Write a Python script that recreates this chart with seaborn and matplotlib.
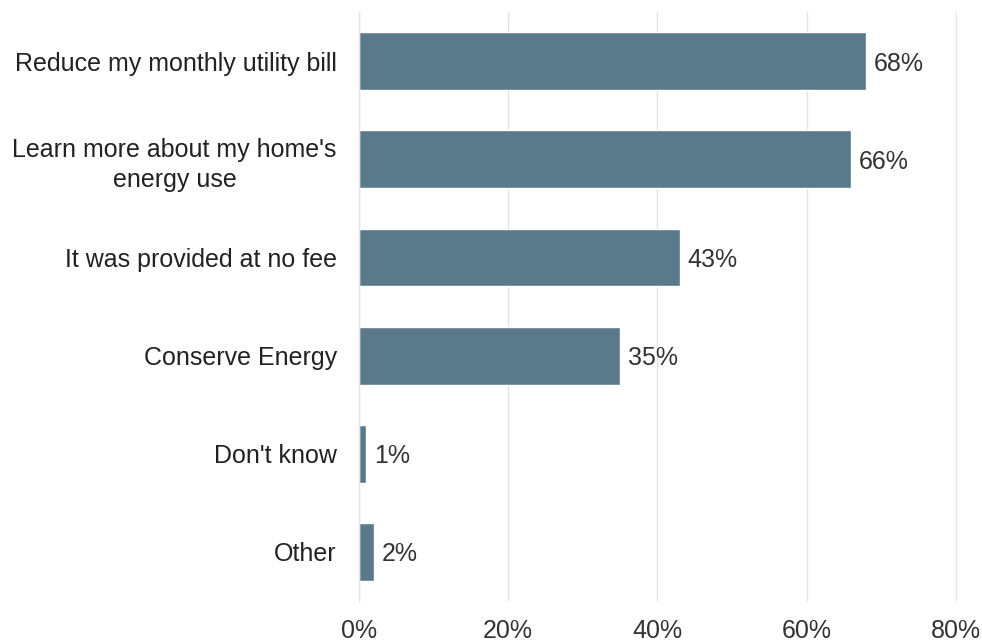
import matplotlib
matplotlib.use("Agg")
import matplotlib.pyplot as plt
import seaborn as sns
import pandas as pd

reasons = [
    "Reduce my monthly utility bill",
    "Learn more about my home's\nenergy use",
    "It was provided at no fee",
    "Conserve Energy",
    "Don't know",
    "Other",
]
shares = [68, 66, 43, 35, 1, 2]
x_ticks = [0, 20, 40, 60, 80]
x_tick_labels = ["0%", "20%", "40%", "60%", "80%"]

df = pd.DataFrame({"reason": reasons, "share": shares})

sns.set_theme(style="white")
plt.rcParams["font.family"] = ["Liberation Sans", "DejaVu Sans"]

fig = plt.figure(figsize=(9.82, 6.42), dpi=100)
ax = fig.add_axes([0.3656, 0.064, 0.609, 0.917])

sns.barplot(data=df, y="reason", x="share", color="#5a7a8c", saturation=1,
            width=0.59, ax=ax, orient="h")

# value labels at the end of each bar
for i, v in enumerate(shares):
    ax.text(v + 1.0, i, f"{v:.0f}%", va="center_baseline", ha="left",
            fontsize=18, color="#333333")

ax.set_xlim(0, 80.15)
ax.set_xticks(x_ticks)
ax.set_xticklabels(x_tick_labels, fontsize=18, color="#333333")
ax.tick_params(axis="x", length=0, pad=13)
ax.tick_params(axis="y", length=0, pad=16, labelsize=18, labelcolor="#222222")
for lbl in ax.get_yticklabels():
    lbl.set_horizontalalignment("right")
    lbl.set_multialignment("center")
    lbl.set_linespacing(1.3)
ax.xaxis.grid(True, color="#e3e3e3", linewidth=1)
ax.set_axisbelow(True)
ax.set_xlabel("")
ax.set_ylabel("")
for side in ["top", "right", "bottom"]:
    ax.spines[side].set_visible(False)
ax.spines["left"].set_color("#e3e3e3")
ax.spines["left"].set_linewidth(1)

fig.savefig("out.png", dpi=100)
